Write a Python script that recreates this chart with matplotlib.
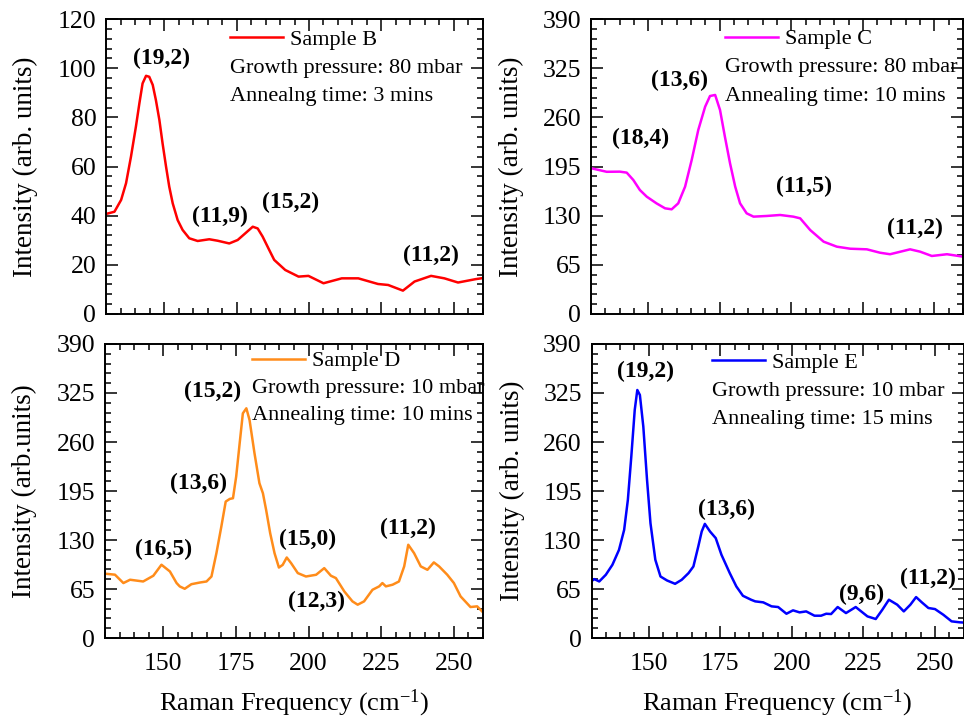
import numpy as np
import matplotlib
matplotlib.use("Agg")
import matplotlib.pyplot as plt

plt.rcParams['font.family'] = ['Liberation Serif', 'DejaVu Serif']
plt.rcParams['mathtext.fontset'] = 'custom'
plt.rcParams['mathtext.rm'] = 'Liberation Serif'
plt.rcParams['mathtext.it'] = 'Liberation Serif:italic'

# Sample B (top left)
xb = [130, 132.9, 135.2, 136.9, 138.6, 140.3, 141.5, 142.6, 143.8, 144.9, 146.1, 147.2, 148.4,
      149.5, 150.7, 151.8, 153, 154.7, 156.4, 158.7, 161.6, 165.6, 168.5, 172.5, 175.4, 178.3,
      180.6, 182.3, 184, 186.3, 188, 191.8, 196.4, 199.8, 205, 211.3, 217, 223.8, 227.3, 232.4,
      236.4, 242.1, 246.7, 251.4, 257.6, 260]
yb = [40.7, 41.6, 46.4, 53.2, 64, 76.2, 85.7, 93.8, 96.9, 96.5, 93.2, 87, 78.9,
      69.4, 59.9, 51.8, 45, 38.2, 34.2, 30.8, 29.7, 30.4, 29.8, 28.7, 30.1, 33.1,
      35.5, 34.8, 31.5, 26, 22, 17.9, 15.2, 15.5, 12.5, 14.5, 14.5, 12.2, 11.8, 9.5,
      13.2, 15.5, 14.5, 12.8, 14.2, 14.6]

# Sample C (top right)
xc = [130.2, 135.5, 140.1, 142.5, 144.8, 147.1, 149.5, 152.9, 155.9, 158.2, 160.5, 162.9,
      165.2, 167.5, 169.9, 171.6, 173.4, 175.1, 176.8, 178.6, 180.4, 182.1, 184.4, 186.8,
      191.4, 196.1, 200.7, 203.1, 206.6, 211.3, 215.9, 220.6, 226.4, 231, 234.5, 241.5,
      245, 249.1, 254.4, 260]
yc = [192.6, 188, 188.2, 186.9, 177.2, 163.9, 155.1, 146.3, 139.7, 138.4, 146.3, 168.4,
      203.6, 243.3, 274.1, 288.2, 289.6, 269.7, 234.5, 199.2, 168.4, 146.3, 133.1, 128.7,
      129.6, 130.9, 128.7, 126.5, 111, 95.6, 89, 86.3, 85.5, 81, 79, 85.5,
      82.4, 76.7, 79, 75.8]

# Sample D (bottom left)
xd = [130.3, 133.4, 136.3, 138.6, 143.1, 146.6, 149.4, 152.3, 154.6, 155.7, 157.4, 159.7,
      162.6, 164.9, 166.6, 168.3, 170, 171.5, 172.9, 174, 175.1, 176.3, 177.4, 178.6, 179.7,
      181.4, 183.1, 184.3, 185.4, 186.8, 188.3, 189.8, 191.1, 192.5, 194, 196.3, 199.1,
      202.6, 205.4, 207.7, 209.4, 212.3, 215.1, 216.9, 219.1, 222, 224.3, 225.4, 226.6,
      228.9, 231.1, 232.9, 234.3, 236.3, 238.6, 240.9, 243.1, 244.9, 247.7, 250, 252.3,
      255.7, 258, 259.7]
yd = [85.2, 84, 72.9, 77.3, 75, 82.6, 97.2, 88.3, 72.9, 68.4, 65.3, 71.4,
      73.6, 75, 81.6, 112.5, 147.9, 181, 184.5, 185.4, 214.1, 258.3, 298, 304.7, 289.2,
      245.1, 205.3, 192, 170, 139, 112.5, 93.5, 97, 106.8, 99.3, 86.1, 81.6,
      83.9, 92.7, 82.6, 79.5, 61.8, 48.6, 44.2, 48.6, 64, 68.5, 72.9, 68.5,
      70.7, 75, 95, 123.7, 112.6, 95, 90.5, 100.3, 95, 84, 72.9, 55.2,
      41.1, 42, 35.3]

# Sample E (bottom right)
xe = [129.8, 131, 132.7, 135, 137.3, 139.6, 141.4, 142.7, 143.9, 145.1, 146, 146.9, 148.1,
      149.4, 150.6, 152.3, 154.1, 156.4, 159.2, 161.5, 163.9, 165.6, 167.3, 168.5, 169.6,
      171.4, 173.4, 175.4, 178.3, 180.6, 182.9, 185.8, 187.2, 190, 192.9, 195.2, 198.1,
      200.4, 202.7, 205, 207.9, 210.2, 212, 213.7, 216, 218.9, 222.3, 226.4, 229.3, 231.6,
      233.9, 236.8, 239.1, 241.4, 243.4, 245.4, 247.7, 250, 252.9, 255.8, 258.7, 260]
ye = [75, 78.1, 75, 83.9, 97.1, 116.9, 143.4, 183.2, 240.6, 302.5, 329, 322.4, 280.4,
      209.7, 152.3, 103.7, 81.6, 76.3, 71.9, 77.2, 86.1, 94.9, 121.4, 141.3, 151.4,
      141.3, 132.5, 110.4, 86.1, 68.4, 56, 50.7, 48.6, 47.3, 42, 41.1, 32.2,
      36.7, 34, 35.3, 29.6, 29.6, 32.2, 31.8, 41.1, 33.1, 41.1, 28.7, 25.2, 37.5,
      50.8, 44.2, 35.3, 44.2, 54.3, 47.3, 39.8, 38.4, 30.9, 22.1, 20.8, 20.5]

panels = [
    dict(x=xb, y=yb, color='#ff0000', name='Sample B',
         info=['Growth pressure: 80 mbar', 'Annealng time: 3 mins'],
         ylim=120, ystep=20, yminor=4, ylabel='Intensity (arb. units)',
         labels=[('(19,2)', 149.3, 104), ('(11,9)', 169.3, 39.5), ('(15,2)', 193.8, 45.5),
                 ('(11,2)', 242, 24)],
         box=[0.110, 0.5627, 0.391, 0.4108], lx=0.329, ly=[0.929, 0.831, 0.736], xt=False),
    dict(x=xc, y=yc, color='#ff00ff', name='Sample C',
         info=['Growth pressure: 80 mbar', 'Annealing time: 10 mins'],
         ylim=390, ystep=65, yminor=13, ylabel='Intensity (arb. units)',
         labels=[('(18,4)', 147.5, 232), ('(13,6)', 161.1, 308.4), ('(11,5)', 204.6, 169),
                 ('(11,2)', 243.3, 113)],
         box=[0.613, 0.5627, 0.386, 0.4108], lx=0.360, ly=[0.932, 0.834, 0.739], xt=False),
    dict(x=xd, y=yd, color='#ff8c1a', name='Sample D',
         info=['Growth pressure: 10 mbar', 'Annealing time: 10 mins'],
         ylim=390, ystep=65, yminor=13, ylabel='Intensity (arb.units)',
         labels=[('(16,5)', 150, 117), ('(13,6)', 162, 205.4), ('(15,2)', 167.1, 326.9),
                 ('(15,0)', 199.7, 130.3), ('(12,3)', 202.6, 48.6), ('(11,2)', 234.3, 145.8)],
         box=[0.109, 0.1114, 0.392, 0.4095], lx=0.389, ly=[0.942, 0.849, 0.756], xt=True),
    dict(x=xe, y=ye, color='#0000ff', name='Sample E',
         info=['Growth pressure: 10 mbar', 'Annealing time: 15 mins'],
         ylim=390, ystep=65, yminor=13, ylabel='Intensity (arb. units)',
         labels=[('(19,2)', 148.7, 353.4), ('(13,6)', 177.1, 171), ('(9,6)', 224.4, 57.4),
                 ('(11,2)', 247.7, 79.5)],
         box=[0.6136, 0.1114, 0.386, 0.4095], lx=0.323, ly=[0.936, 0.838, 0.744], xt=True),
]

fig = plt.figure(figsize=(9.64, 7.18), dpi=100)

for p in panels:
    ax = fig.add_axes(p['box'])
    ax.plot(p['x'], p['y'], color=p['color'], lw=1.8, label=p['name'],
            solid_joinstyle='round')
    ax.set_xlim(130, 260)
    ax.set_ylim(0, p['ylim'])
    ax.set_xticks(np.arange(150, 260, 25))
    ax.set_xticks(np.arange(130, 261, 5), minor=True)
    ax.set_yticks(np.arange(0, p['ylim'] + 1, p['ystep']))
    ax.set_yticks(np.arange(0, p['ylim'] + 1, p['yminor']), minor=True)
    ax.tick_params(which='both', direction='in', top=True, right=True, width=1.1)
    ax.tick_params(which='major', length=8.5, labelsize=18.5)
    ax.tick_params(which='minor', length=4.3)
    ax.tick_params(axis='x', pad=11)
    ax.tick_params(axis='y', pad=7)
    for s in ax.spines.values():
        s.set_linewidth(1.4)
    if not p['xt']:
        ax.set_xticklabels([])
    else:
        ax.set_xlabel('Raman Frequency (cm$^{-1}$)', fontsize=19)
        ax.xaxis.set_label_coords(0.5, -0.17)
    ax.set_ylabel(p['ylabel'], fontsize=19.5)
    ax.yaxis.set_label_coords(-0.18, 0.5)

    ax.legend(loc='center left', bbox_to_anchor=(p['lx'], p['ly'][0]), frameon=False,
              fontsize=16, borderpad=0, borderaxespad=0, handlelength=2.4,
              handletextpad=0.3)
    for txt, yy in zip(p['info'], p['ly'][1:]):
        ax.text(p['lx'], yy, txt, transform=ax.transAxes, fontsize=16,
                ha='left', va='center')
    for txt, x0, y0 in p['labels']:
        ax.text(x0, y0, txt, fontsize=17, fontweight='bold', ha='center', va='center')

fig.savefig('out.png', dpi=100)
